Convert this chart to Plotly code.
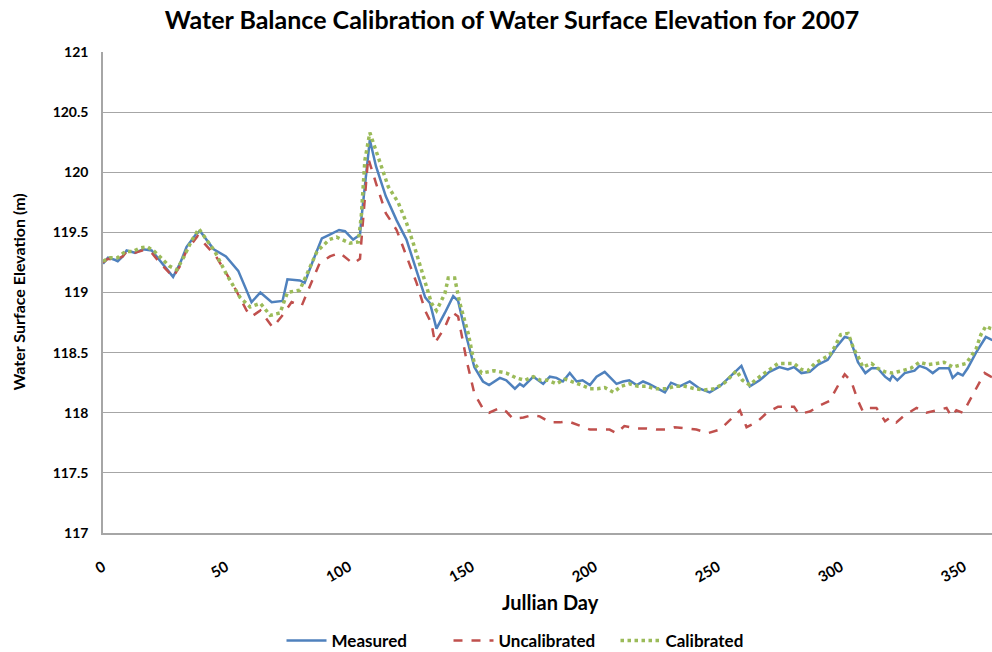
import plotly.graph_objects as go

# Measured
meas_day = [0, 2, 5, 6, 8, 9.6, 13, 16.3, 19.8, 23, 26.4, 28.5, 31.3, 34, 38, 39.5, 45, 50, 55, 60.4, 64, 68.6,
            73, 75, 80, 82, 85.5, 89, 92, 96, 98.4, 101.7, 104.5, 105, 108.5, 111, 115, 119.4, 123.4, 127.5,
            131, 133, 135.6, 139, 142.4, 144.4, 147.8, 151, 154.5, 157, 161.4, 164, 167.5, 169.5, 171, 175,
            179, 181.7, 184.4, 187, 189.8, 192.6, 195, 198, 200.7, 204, 208.8, 211.5, 214, 217, 219.6, 222,
            225, 228.5, 231, 234.5, 238.6, 242.7, 246.7, 250.8, 255, 259.6, 263, 267, 271, 275, 278.5, 281,
            284, 287.4, 290.8, 294.7, 298, 301.6, 303.7, 307, 310, 312.5, 315, 318, 320, 321, 323, 326, 330,
            332, 334.8, 337.4, 340, 344, 345.5, 347.6, 349.6, 351.6, 355, 359, 361, 365]
meas_val = [119.24, 119.29, 119.27, 119.26, 119.30, 119.35, 119.33, 119.36, 119.35, 119.27, 119.19, 119.13,
            119.24, 119.38, 119.49, 119.51, 119.36, 119.30, 119.18, 118.92, 119.00, 118.92,
            118.93, 119.11, 119.10, 119.08, 119.27, 119.45, 119.48, 119.52, 119.51, 119.44, 119.48, 119.60,
            120.27, 120.05, 119.80, 119.60, 119.44, 119.19,
            118.96, 118.91, 118.70, 118.83, 118.97, 118.93, 118.63, 118.38, 118.26, 118.23, 118.29, 118.27,
            118.20, 118.24, 118.22, 118.30,
            118.24, 118.30, 118.29, 118.26, 118.33, 118.26, 118.27, 118.23, 118.30, 118.34, 118.24, 118.26,
            118.27, 118.23, 118.26, 118.24,
            118.21, 118.17, 118.25, 118.22, 118.26, 118.20, 118.17, 118.22, 118.30, 118.39, 118.22, 118.27,
            118.34, 118.38, 118.36, 118.38,
            118.33, 118.34, 118.40, 118.44, 118.54, 118.63, 118.62, 118.42, 118.33, 118.37, 118.37, 118.30,
            118.27, 118.31, 118.27, 118.33, 118.35,
            118.39, 118.37, 118.33, 118.37, 118.37, 118.29, 118.33, 118.31, 118.37, 118.50, 118.63, 118.61, 118.58]

# Uncalibrated
unc_day = [0, 2, 5, 8, 9.6, 13, 16.3, 19.8, 23, 26.4, 28.5, 31.3, 34, 38.5, 46, 53, 58.4, 60.4, 64, 69, 72.6,
           76.7, 80.8, 85.5, 88, 92.3, 96.3, 101.7, 104.5, 105, 107.8, 111, 115, 119.4, 123.4, 127.5, 131,
           133.6, 135, 139, 141.7, 144.4, 147.8, 151, 154.6, 157, 161.4, 164, 166.7, 171, 174.3, 177.6, 181.7,
           185.8, 189, 193, 198, 202, 206, 208.8, 212, 217, 221, 225, 229, 232.5, 236.6, 241.3, 246, 250.8,
           255, 259, 261.7, 265.7, 270, 274.5, 278.6, 281, 283, 285, 287.4, 291.5, 295.5, 299, 301.6, 304.3,
           307, 309, 311.8, 314.5, 318, 320, 322.6, 326, 330.8, 334.8, 339, 343, 345, 347, 349.7, 352.4,
           355.8, 358.5, 361, 365]
unc_val = [119.25, 119.28, 119.27, 119.30, 119.34, 119.33, 119.35, 119.33, 119.25, 119.17, 119.13, 119.22,
           119.35, 119.47, 119.30, 119.06, 118.85, 118.80, 118.85, 118.71, 118.80,
           118.92, 118.89, 119.12, 119.24, 119.30, 119.33, 119.24, 119.28, 119.41, 120.12, 119.91, 119.66,
           119.52, 119.31, 119.08, 118.85,
           118.74, 118.58, 118.71, 118.84, 118.80, 118.44, 118.16, 118.03, 118.00, 118.04, 118.01, 117.95,
           117.96, 117.98, 117.97, 117.92,
           117.92, 117.93, 117.90, 117.86, 117.86, 117.86, 117.83, 117.89, 117.87, 117.87, 117.86, 117.86,
           117.88, 117.87, 117.86, 117.83, 117.86,
           117.94, 118.02, 117.88, 117.92, 118.00, 118.05, 118.05, 118.05, 117.99, 118.00, 118.01, 118.06,
           118.10, 118.23, 118.32, 118.26,
           118.10, 118.01, 118.04, 118.04, 117.93, 117.96, 117.92, 117.98, 118.04, 118.00, 118.02, 118.04,
           117.97, 118.02, 118.00, 118.10,
           118.23, 118.33, 118.30, 118.28]

# Calibrated
cal_day = [0, 3, 6, 9, 12, 15, 18, 21, 24, 27, 30, 33, 36, 39, 45.5, 50, 55.7, 59.8, 64, 68, 72, 75, 80, 83,
           87, 92, 95, 100.4, 103.8, 105, 106.5, 108.5, 112, 116, 120, 123.4, 126.8, 130, 133.6, 135.6, 139,
           140.4, 143, 145, 148.5, 151, 154, 159, 164, 168, 171.5, 175, 178, 181, 184.4, 187.8, 191, 194.6,
           198, 201, 204, 207.5, 210.8, 214, 217.6, 221, 224.4, 229, 232.5, 236.6, 240.6, 244.7, 248.8,
           252.8, 257.6, 260, 263, 265.7, 268.4, 271.8, 274.5, 278, 281, 284, 286.7, 289.4, 292, 295.5,
           297.6, 300, 303, 305.3, 307, 309, 312.5, 315, 318, 321, 325, 328.5, 332, 335.5, 339, 342, 345.6,
           348, 351, 353, 355, 357, 359, 361, 365]
cal_val = [119.26, 119.29, 119.29, 119.34, 119.34, 119.37, 119.38, 119.34, 119.28, 119.22, 119.19, 119.30,
           119.43, 119.53, 119.34, 119.16, 118.96, 118.88, 118.91, 118.81, 118.83, 119.00, 119.02, 119.16,
           119.34, 119.44, 119.46, 119.41, 119.42, 119.63, 120.10, 120.33, 120.13, 119.88, 119.75, 119.58,
           119.37, 119.16, 118.91, 118.85, 118.99,
           119.12, 119.12, 118.92, 118.66, 118.41, 118.33, 118.35, 118.33, 118.29, 118.27, 118.30, 118.27,
           118.27, 118.24, 118.28, 118.26, 118.23,
           118.20, 118.20, 118.21, 118.17, 118.22, 118.24, 118.22, 118.22, 118.20, 118.20, 118.22, 118.22,
           118.20, 118.19, 118.20,
           118.25, 118.35, 118.27, 118.23, 118.28, 118.32, 118.37, 118.41, 118.41, 118.41, 118.36, 118.35,
           118.41, 118.44, 118.48,
           118.55, 118.65, 118.66, 118.53, 118.47, 118.38, 118.41, 118.37, 118.34, 118.33, 118.35, 118.37,
           118.42, 118.40, 118.41, 118.42, 118.38,
           118.39, 118.41, 118.47, 118.53, 118.65, 118.72, 118.70, 118.68]

series_names = ["Measured", "Uncalibrated", "Calibrated"]
y_ticks = [117, 117.5, 118, 118.5, 119, 119.5, 120, 120.5, 121]
x_ticks = [0, 50, 100, 150, 200, 250, 300, 350]

FONT = "Lato"

fig = go.Figure()
fig.add_trace(go.Scatter(x=meas_day, y=meas_val, mode="lines", name=series_names[0],
                         line=dict(color="#4F81BD", width=2.5)))
fig.add_trace(go.Scatter(x=unc_day, y=unc_val, mode="lines", name=series_names[1],
                         line=dict(color="#C0504D", width=2.5, dash="dash")))
fig.add_trace(go.Scatter(x=cal_day, y=cal_val, mode="lines", name=series_names[2],
                         line=dict(color="#9BBB59", width=3.5, dash="dot")))

fig.update_layout(
    width=992, height=652,
    margin=dict(l=103, r=0, t=52, b=119),
    paper_bgcolor="white", plot_bgcolor="white",
    font=dict(family=FONT, color="black"),
    title=dict(text="<b>Water Balance Calibration of Water Surface Elevation for 2007</b>",
               font=dict(family=FONT, size=25, color="black"),
               x=512/992, xref="container", xanchor="center",
               y=1-20/652, yref="container", yanchor="middle"),
    showlegend=True,
    legend=dict(orientation="h", x=(532-103)/889, xanchor="center",
                yref="container", y=1-641/652, yanchor="middle",
                entrywidth=112, entrywidthmode="pixels",
                font=dict(family=FONT, size=17, weight="bold"), itemwidth=40, tracegroupgap=0),
    xaxis=dict(range=[0, 361.5], tickvals=x_ticks, ticktext=[str(v) for v in x_ticks],
               tickangle=-30, showgrid=False, zeroline=False, showline=True,
               linecolor="#a6a6a6", linewidth=1.5, ticklabelstandoff=18,
               ticks="", tickfont=dict(family=FONT, size=15, weight="bold")),
    yaxis=dict(range=[117, 121], tickvals=y_ticks, ticktext=[f"{v:g}" for v in y_ticks],
               showgrid=True, gridcolor="#a6a6a6", gridwidth=1, zeroline=False,
               showline=True, linecolor="#a6a6a6", linewidth=1.5, ticks="", ticklabelstandoff=10,
               tickfont=dict(family=FONT, size=14, weight="bold")),
    annotations=[
        dict(text="<b>Water Surface Elevation (m)</b>", xref="paper", yref="paper",
             x=(18-103)/889, y=0.5, xanchor="center", yanchor="middle", textangle=-90,
             showarrow=False, font=dict(family=FONT, size=16, color="black")),
        dict(text="<b>Jullian Day</b>", xref="paper", yref="paper",
             x=(550-103)/889, y=-(602-533)/481, xanchor="center", yanchor="middle",
             showarrow=False, font=dict(family=FONT, size=20, color="black")),
    ],
)

fig.write_html("out.html")
